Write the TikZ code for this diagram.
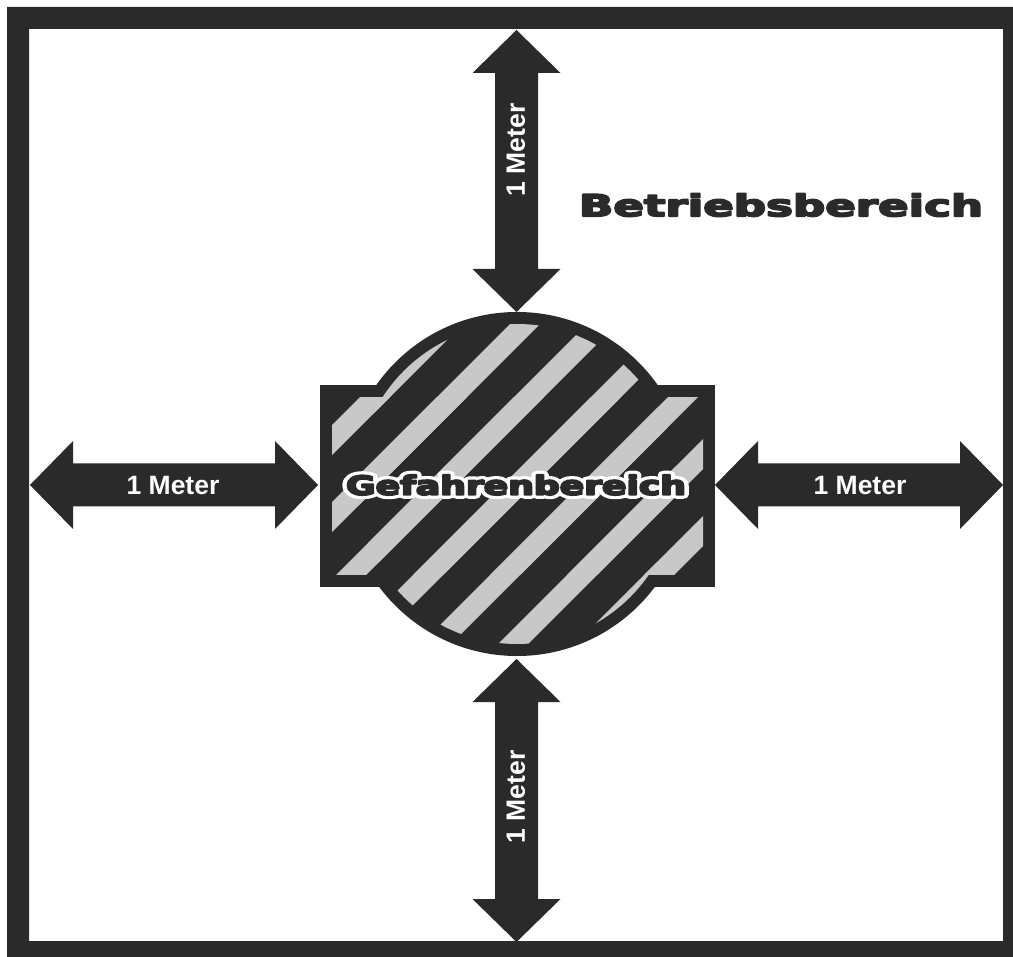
\documentclass[tikz,border=0pt]{standalone}
\usepackage{fontspec}
\usepackage{graphicx}
\setmainfont{Liberation Sans}
\newfontfamily\heavyfont{DejaVu Sans}
\usetikzlibrary{calc}
\definecolor{ink}{HTML}{2A2A2A}
\definecolor{stripe}{HTML}{C8C8C8}
\newcommand\MyVArrow[3]{%
  \fill[ink] (#1,#2) -- (#1+44,#2+43) -- (#1+21.5,#2+43) -- (#1+21.5,#3-43) -- (#1+44,#3-43)
    -- (#1,#3) -- (#1-44,#3-43) -- (#1-21.5,#3-43) -- (#1-21.5,#2+43) -- (#1-44,#2+43) -- cycle;}
\newcommand\MyHArrow[3]{%
  \fill[ink] (#2,#1) -- (#2+43,#1-44) -- (#2+43,#1-21.5) -- (#3-43,#1-21.5) -- (#3-43,#1-44)
    -- (#3,#1) -- (#3-43,#1+44) -- (#3-43,#1+21.5) -- (#2+43,#1+21.5) -- (#2+43,#1+44) -- cycle;}
\newcommand\MyStripes{%
  \foreach \k in {0,...,7}{%
    \pgfmathsetmacro\sa{757+77*\k}%
    \fill[stripe] (\sa-680,680) -- (\sa-290,290) -- (\sa-260,290) -- (\sa-650,680) -- cycle;}}
% stroked (emboldened / outlined) text via PDF text render mode
\newcommand\MyStroked[2]{\special{pdf:literal direct 1 j #1 w 2 Tr}#2\special{pdf:literal direct 0 Tr}}
\newcommand\MyGword{\heavyfont\bfseries\fontsize{27.6}{30}\selectfont Gefahrenbereich}
\tikzset{
  mtext/.style={text=white, inner sep=0pt, font=\fontsize{26.5}{30}\selectfont\bfseries},
  gword/.style={inner sep=0pt},
}
\begin{document}
\begin{tikzpicture}[x=1pt,y=-1pt]
\useasboundingbox (0,0) rectangle (1013,957);
% frame
\fill[ink, even odd rule] (7,7) rectangle (1013,957) (29,29) rectangle (1003,941);
% hazard zone
\fill[ink] (517,484) circle[radius=172];
\fill[ink] (320,385) rectangle (715,587);
\begin{scope}
  \clip (517,484) circle[radius=160];
  \MyStripes
\end{scope}
\begin{scope}
  \clip (332,398) rectangle (703,575);
  \MyStripes
\end{scope}
% arrows
\MyVArrow{516.5}{30}{312}
\MyVArrow{516.5}{659}{942}
\MyHArrow{485}{30}{318}
\MyHArrow{485}{715}{1003}
% labels
\node[mtext, rotate=90] (mtop) at (516,150) {1 Meter};
\node[mtext, rotate=90] (mbot) at (516,797) {1 Meter};
\node[mtext] (mleft) at (173,486) {1 Meter};
\node[mtext] (mright) at (860,486) {1 Meter};
\node[gword, text=ink] (bb) at (781,205)
  {\resizebox{404pt}{23pt}{\MyStroked{1.6}{\heavyfont\bfseries\fontsize{31.6}{34}\selectfont Betriebsbereich}}};
% Gefahrenbereich: white outline under dark letters
\node[gword, text=ink] (gf) at (516,485)
  {\resizebox{340pt}{20pt}{\rlap{\textcolor{white}{\MyStroked{8.5}{\MyGword}}}\MyStroked{1.8}{\MyGword}}};
\end{tikzpicture}
\end{document}
